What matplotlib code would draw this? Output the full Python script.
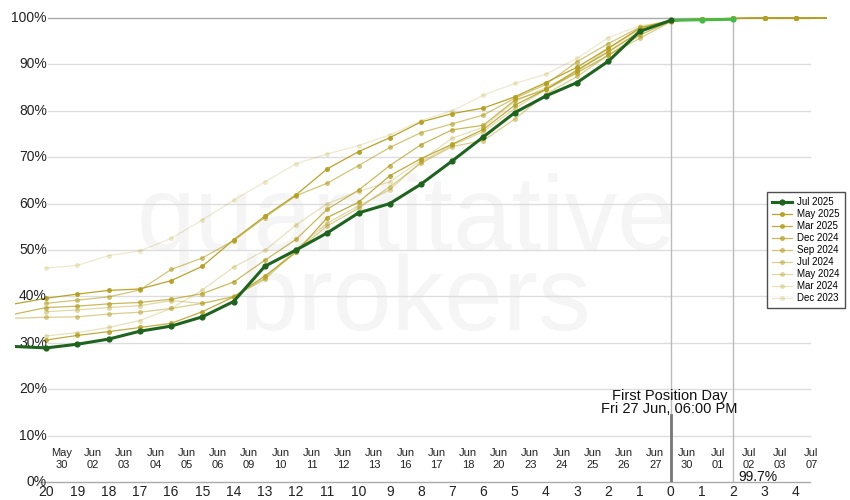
import matplotlib.pyplot as plt
from matplotlib.lines import Line2D
import numpy as np

plt.rcParams['font.family'] = ['Liberation Sans', 'DejaVu Sans']

# x positions: days before first position day (21 .. 0), then days after (1 .. 5)
days_before = list(range(21, -1, -1))
days_after = [1, 2, 3, 4, 5]

date_labels = ["May\n30", "Jun\n02", "Jun\n03", "Jun\n04", "Jun\n05", "Jun\n06",
               "Jun\n09", "Jun\n10", "Jun\n11", "Jun\n12", "Jun\n13", "Jun\n16",
               "Jun\n17", "Jun\n18", "Jun\n20", "Jun\n23", "Jun\n24", "Jun\n25",
               "Jun\n26", "Jun\n27", "Jun\n30", "Jul\n01", "Jul\n02", "Jul\n03",
               "Jul\n07"]

nan = np.nan
# roll progress (%) for each contract, index 21 .. 0 days before
jul25 = [29.2, 28.9, 29.7, 30.8, 32.5, 33.6, 35.6, 38.9, 46.5, 50.0, 53.7, 58.0,
         60.0, 64.2, 69.2, 74.4, 79.6, 83.2, 86.1, 90.7, 97.1, 99.5]
jul25_after = [99.6, 99.7]   # days 1, 2

may25 = [38.4, 39.6, 40.5, 41.3, 41.6, 43.4, 46.5, 52.2, 57.3, 61.9, 67.5, 71.2,
         74.2, 77.6, 79.4, 80.6, 83.0, 86.1, 89.4, 93.5, 97.8, 99.5]
mar25 = [nan, 30.6, 31.6, 32.4, 33.3, 34.2, 36.7, 39.9, 44.4, 49.5, 57.0, 60.3,
         66.0, 69.7, 72.8, 76.0, 81.2, 84.6, 88.8, 92.7, 97.0, 99.4]
dec24 = [36.2, 37.6, 37.9, 38.4, 38.7, 39.4, 40.6, 43.1, 47.8, 52.3, 58.8, 62.9,
         68.2, 72.7, 75.9, 76.9, 82.3, 84.6, 88.2, 92.0, 96.3, 99.3]
sep24 = [nan, 38.5, 39.2, 39.9, 41.4, 45.8, 48.3, 52.0, 57.0, 61.7, 64.4, 68.2,
         72.1, 75.3, 77.2, 79.1, 82.7, 85.7, 90.6, 94.5, 98.0, 99.4]
jul24 = [35.3, 35.5, 35.6, 36.2, 36.6, 37.4, 38.5, 40.0, 43.7, 49.8, 55.2, 59.0,
         63.6, 68.7, 72.3, 73.6, 78.2, 83.6, 87.4, 92.0, 95.6, 99.2]
may24 = [nan, 36.7, 37.1, 37.6, 38.0, 39.1, 38.5, 39.9, 44.0, 50.2, 55.8, 59.5,
         63.0, 69.0, 72.6, 75.5, 80.5, 84.6, 88.5, 93.5, 97.5, 99.4]
mar24 = [nan, 31.5, 32.2, 33.3, 34.8, 37.4, 41.4, 46.3, 49.9, 55.4, 60.0, 62.6,
         64.7, 69.3, 74.1, 76.5, 82.0, 85.0, 88.5, 93.0, 97.0, 99.4]
dec23 = [nan, 46.1, 46.7, 48.8, 49.8, 52.5, 56.5, 60.7, 64.7, 68.6, 70.7, 72.5,
         74.8, 77.9, 80.0, 83.4, 85.9, 87.9, 91.3, 95.8, 98.3, 99.4]
old_after = [99.8, 99.9, 100.0, 100.0, 100.0]   # days 1 .. 5

old_names = ["May 2025", "Mar 2025", "Dec 2024", "Sep 2024", "Jul 2024",
             "May 2024", "Mar 2024", "Dec 2023"]
old_series = [may25, mar25, dec24, sep24, jul24, may24, mar24, dec23]
old_alpha = [0.95, 0.85, 0.72, 0.6, 0.5, 0.4, 0.3, 0.22]

olive = '#b59f1e'
green = '#1e641e'
light_green = '#44bb44'
grid_c = '#dddddd'

fig = plt.figure(figsize=(8.5, 5), dpi=100)
ax = fig.add_axes([15 / 850, 18 / 500, 812 / 850, 466.3 / 500])

x_before = -np.array(days_before)
x_after = np.array(days_after)
x_all = np.concatenate([x_before, x_after])

ax.set_xlim(-21, 5)
ax.set_ylim(0, 100.5)
ax.axis('off')

# watermark
ax.text(-8.45, 50, "quantitative", fontsize=76, color='#f5f5f5', ha='center',
        va='baseline', zorder=0)
ax.text(-8.2, 32.8, "brokers", fontsize=76, color='#f5f5f5', ha='center',
        va='baseline', zorder=0)

# horizontal grid
gl, gr = -19.95, 4.46
for v in range(10, 100, 10):
    ax.plot([gl, gr], [v, v], color=grid_c, lw=1, zorder=1)
ax.plot([gl, gr], [100, 100], color='#aaaaaa', lw=1, zorder=1)
ax.plot([-20.2, gr], [0, 0], color='#aaaaaa', lw=1, zorder=1, clip_on=False)

for v in range(0, 101, 10):
    ax.text(-19.98, v, f"{v}%", ha='right', va='center', fontsize=10,
            color='#222222', zorder=5)

# vertical markers
for xv in [0, 2]:
    ax.plot([xv, xv], [0, 100], color='#bbbbbb', lw=1, zorder=1)
ax.plot([0, 0], [0, 14.4], color='#777777', lw=2, zorder=2)

# x labels
for xv in range(-20, 5):
    ax.text(xv, -2.2, str(abs(xv)), ha='center', va='center', fontsize=10,
            color='#222222', clip_on=False)
for i, lab in enumerate(date_labels):
    ax.text(-19.5 + i, 4.85, lab, ha='center', va='center', fontsize=8,
            color='#222222', linespacing=1.25)

# older contracts
handles = []
for name, vals, a in zip(old_names, old_series, old_alpha):
    y = np.concatenate([vals, old_after])
    ax.plot(x_all, y, color=olive, alpha=a, lw=0.9, marker='o',
            markersize=3.6, markeredgewidth=0,
            markevery=list(range(1, len(y) - 1)), zorder=3 + 0.1 * a)
    handles.append(Line2D([], [], color=olive, alpha=a, lw=0.9, marker='o',
                          markersize=3.6, markeredgewidth=0))

# current contract
ax.plot([0] + list(x_after[:2]), [jul25[-1]] + jul25_after, color=light_green,
        lw=2, marker='o', markersize=4.5, markeredgewidth=0, markevery=[1, 2],
        zorder=4)
ax.plot(x_before, jul25, color=green, lw=2.2, marker='o', markersize=4.5,
        markeredgewidth=0, markevery=list(range(1, len(jul25))), zorder=5)
hj = Line2D([], [], color=green, lw=2.2, marker='o', markersize=4.5,
            markeredgewidth=0)

ax.text(-0.05, 17.1, "First Position Day\nFri 27 Jun, 06:00 PM", ha='center',
        va='center', fontsize=10.5, linespacing=0.9, color='#111111', zorder=6)
ax.text(2.16, 1.1, "99.7%", ha='left', va='center', fontsize=10,
        color='#111111', zorder=6)

leg = fig.legend([hj] + handles, ["Jul 2025"] + old_names, loc='upper left',
                 bbox_to_anchor=(767 / 850, 1 - 192 / 500), fontsize=7,
                 frameon=True, fancybox=False, edgecolor='#222222',
                 handlelength=2.0, labelspacing=0.2, borderpad=0.55,
                 handletextpad=0.5, borderaxespad=0, numpoints=1)
leg.get_frame().set_linewidth(1)

fig.savefig("out.png", dpi=100)
